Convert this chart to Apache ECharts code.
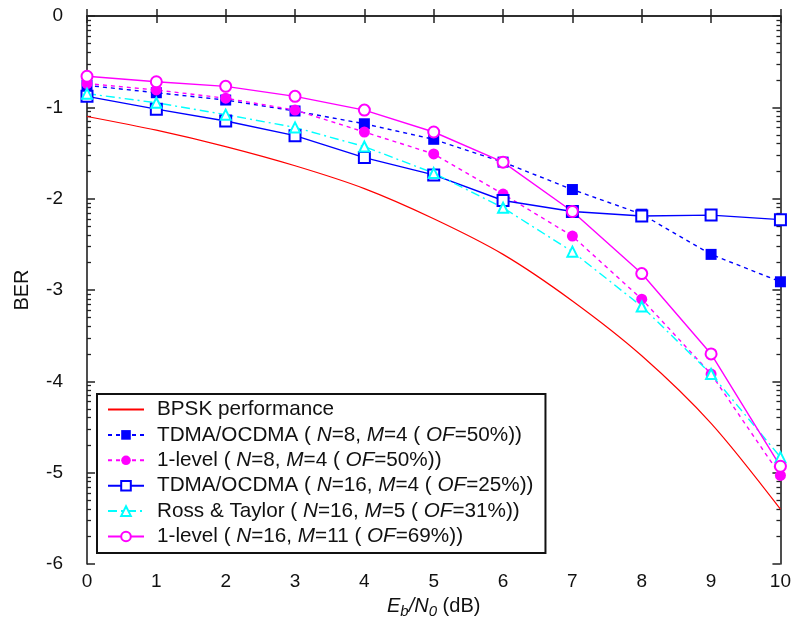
<!DOCTYPE html>
<html><head><meta charset="utf-8">
<script src="https://cdn.jsdelivr.net/npm/echarts@6/dist/echarts.min.js"></script>
<style>html,body{margin:0;padding:0;background:#fff}#c{width:794px;height:628px}</style>
</head><body><div id="c"></div>
<script>
const xValues = [0, 1, 2, 3, 4, 5, 6, 7, 8, 9, 10];
const bpsk = [-1.10, -1.25, -1.43, -1.64, -1.89, -2.22, -2.61, -3.12, -3.72, -4.46, -5.40];
const tdma8 = [-0.76, -0.84, -0.92, -1.04, -1.18, -1.35, -1.60, -1.90, -2.17, -2.61, -2.91];
const level8 = [-0.74, -0.81, -0.90, -1.03, -1.27, -1.51, -1.95, -2.41, -3.10, -3.92, -5.03];
const tdma16 = [-0.88, -1.02, -1.15, -1.31, -1.55, -1.74, -2.02, -2.14, -2.19, -2.18, -2.23];
const ross = [-0.85, -0.95, -1.08, -1.22, -1.43, -1.72, -2.10, -2.58, -3.18, -3.92, -4.83];
const level16 = [-0.66, -0.72, -0.77, -0.88, -1.03, -1.27, -1.60, -2.14, -2.82, -3.70, -4.93];
const yMajorTicks = [0, -1, -2, -3, -4, -5, -6];
const seriesNames = ['BPSK performance', 'TDMA/OCDMA (N=8, M=4)', '1-level (N=8, M=4)', 'TDMA/OCDMA (N=16, M=4)', 'Ross & Taylor', '1-level (N=16, M=11)'];
const legendLabels = [
  'BPSK performance',
  'TDMA/OCDMA ( {i|N}=8, {i|M}=4 ( {i|OF}=50%))',
  '1-level ( {i|N}=8, {i|M}=4 ( {i|OF}=50%))',
  'TDMA/OCDMA ( {i|N}=16, {i|M}=4 ( {i|OF}=25%))',
  'Ross & Taylor ( {i|N}=16, {i|M}=5 ( {i|OF}=31%))',
  '1-level ( {i|N}=16, {i|M}=11 ( {i|OF}=69%))'
];
// log-decade minor tick positions (axis decoration)
const yMinorTicks = [];
for (let d = -6; d < 0; d++) for (let k = 2; k <= 9; k++) yMinorTicks.push(d + Math.log10(k));

const FONT = 'Liberation Sans, Arial, sans-serif';
const TXT = '#111';
const AX = { lineStyle: { color: '#222', width: 1.6 } };
function pairs(ys) { return xValues.map((x, i) => [x, ys[i]]); }

const baseY = { type: 'value', min: -6, max: 0, splitLine: { show: false } };
const chart = echarts.init(document.getElementById('c'), null, { renderer: 'canvas' });
chart.setOption({
  animation: false,
  backgroundColor: '#fff',
  grid: { left: 87, right: 11, top: 16, bottom: 64 },
  xAxis: [
    { type: 'value', min: 0, max: 10, interval: 1, position: 'bottom',
      axisLine: Object.assign({ show: true }, AX),
      axisTick: { show: true, inside: true, length: 7, lineStyle: { color: '#222', width: 1.5 } },
      axisLabel: { color: TXT, fontSize: 19, fontFamily: FONT, margin: 8 },
      splitLine: { show: false },
      name: '{i|E}{s|b}{i|/N}{s|0} (dB)', nameLocation: 'middle', nameGap: 30,
      nameTextStyle: { color: TXT, fontSize: 20, fontFamily: FONT,
        rich: { i: { fontStyle: 'italic', fontSize: 20, fontFamily: FONT, color: TXT },
                s: { fontStyle: 'italic', fontSize: 15, fontFamily: FONT, color: TXT, verticalAlign: 'bottom', padding: [10, 0, 0, 0] } } } },
    { type: 'value', min: 0, max: 10, interval: 1, position: 'top',
      axisLine: Object.assign({ show: true }, AX),
      axisTick: { show: true, inside: true, length: 7, lineStyle: { color: '#222', width: 1.5 } },
      axisLabel: { show: false }, splitLine: { show: false } }
  ],
  yAxis: [
    Object.assign({}, baseY, { position: 'left', interval: 1,
      axisLine: Object.assign({ show: true }, AX),
      axisTick: { show: true, inside: true, length: 8, lineStyle: { color: '#222', width: 1.5 } },
      axisLabel: { color: TXT, fontSize: 19, fontFamily: FONT, margin: 24 },
      name: 'BER', nameLocation: 'middle', nameGap: 55, nameRotate: 90,
      nameTextStyle: { color: TXT, fontSize: 20, fontFamily: FONT } }),
    Object.assign({}, baseY, { position: 'left',
      axisLine: { show: false },
      axisTick: { show: true, inside: true, length: 4, customValues: yMinorTicks, lineStyle: { color: '#222', width: 1.3 } },
      axisLabel: { show: false } }),
    Object.assign({}, baseY, { position: 'right', interval: 1,
      axisLine: Object.assign({ show: true }, AX),
      axisTick: { show: true, inside: true, length: 8, lineStyle: { color: '#222', width: 1.5 } },
      axisLabel: { show: false } }),
    Object.assign({}, baseY, { position: 'right',
      axisLine: { show: false },
      axisTick: { show: true, inside: true, length: 4, customValues: yMinorTicks, lineStyle: { color: '#222', width: 1.3 } },
      axisLabel: { show: false } })
  ],
  legend: {
    orient: 'vertical', left: 97, top: 394,
    backgroundColor: '#fff', borderColor: '#111', borderWidth: 2, borderRadius: 0,
    padding: [5, 12, 6, 10], itemWidth: 36, itemHeight: 12, itemGap: 4.4,
    data: seriesNames.map((n, i) => i === 0
      ? { name: n, itemStyle: { color: 'rgba(0,0,0,0)', borderColor: 'rgba(0,0,0,0)', opacity: 0 } }
      : { name: n }),
    formatter: function (n) { return legendLabels[seriesNames.indexOf(n)]; },
    textStyle: { color: TXT, fontSize: 20.7, fontFamily: FONT, lineHeight: 20, padding: [0, 0, 0, 8],
      rich: { i: { fontStyle: 'italic', fontSize: 20.7, fontFamily: FONT, color: TXT, lineHeight: 20 } } }
  },
  series: [
    { name: seriesNames[0], type: 'line', data: pairs(bpsk), smooth: 0.3, showSymbol: false, symbol: 'none',
      lineStyle: { color: '#ff0000', width: 1.2 }, itemStyle: { color: '#ff0000' } },
    { name: seriesNames[1], type: 'line', data: pairs(tdma8), symbol: 'rect', symbolSize: 11,
      lineStyle: { color: '#0000ff', width: 1.4, type: [4, 4] }, itemStyle: { color: '#0000ff' } },
    { name: seriesNames[2], type: 'line', data: pairs(level8), symbol: 'circle', symbolSize: 11,
      lineStyle: { color: '#ff00ff', width: 1.4, type: [4, 4] }, itemStyle: { color: '#ff00ff' } },
    { name: seriesNames[3], type: 'line', data: pairs(tdma16), symbol: 'emptyRect', symbolSize: 11,
      lineStyle: { color: '#0000ff', width: 1.4 }, itemStyle: { color: '#0000ff', borderWidth: 1.6 } },
    { name: seriesNames[4], type: 'line', data: pairs(ross), symbol: 'emptyTriangle', symbolSize: 10,
      lineStyle: { color: '#00ffff', width: 1.4, type: [9, 4, 2, 4] }, itemStyle: { color: '#00ffff', borderWidth: 1.6 } },
    { name: seriesNames[5], type: 'line', data: pairs(level16), symbol: 'emptyCircle', symbolSize: 11,
      lineStyle: { color: '#ff00ff', width: 1.4 }, itemStyle: { color: '#ff00ff', borderWidth: 1.6 } }
  ]
});
</script></body></html>
